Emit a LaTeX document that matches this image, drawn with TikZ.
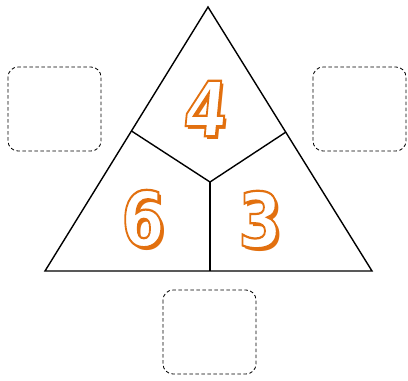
\documentclass[tikz,border=0pt]{standalone}
\usepackage{fontspec}
\newfontfamily\digitfont{DejaVu Sans}
\definecolor{numorange}{HTML}{E2700F}
\newcommand{\outlinedigit}[1]{\special{pdf:literal direct 2 Tr 2.2 w 1 1 1 rg 0.886 0.439 0.059 RG}#1\special{pdf:literal direct 0 Tr}}
\newcommand{\fancydigit}[1]{\makebox[0pt][l]{\hspace{3.6pt}\raisebox{-3pt}{\textcolor{numorange}{#1}}}\outlinedigit{#1}}
\tikzset{
  tri/.style={draw=black, line width=1.4pt, line join=miter},
  part/.style={draw=black, line width=1.4pt},
  blank/.style={draw=black, dash pattern=on 3.5pt off 2.5pt, rounded corners=10pt, line width=0.85pt},
  num/.style={font=\digitfont\bfseries\fontsize{76}{76}\selectfont, inner sep=0pt, xscale=0.82}
}
\begin{document}
\begin{tikzpicture}[x=1pt,y=-1pt]
\useasboundingbox (0,0) rectangle (408,381);
\coordinate (top) at (208,7);
\coordinate (bl) at (45,271);
\coordinate (br) at (372,271);
\coordinate (c) at (210,182);
\coordinate (ml) at (131.5,131);
\coordinate (mr) at (286,132);
\coordinate (mb) at (210,271);
\draw[tri] (top) -- (bl) -- (br) -- cycle;
\draw[part] (ml) -- (c) -- (mr);
\draw[part] (c) -- (mb);
% dashed boxes
\draw[blank] (8,67) rectangle (101,151);
\draw[blank] (313,67) rectangle (406,151);
\draw[blank] (163,290) rectangle (256,374);
% numbers
\node[num, xslant=0.12] (n4) at (206,110) {\fancydigit{4}};
\node[num] (n6) at (143,220) {\fancydigit{6}};
\node[num] (n3) at (260,221) {\fancydigit{3}};
\end{tikzpicture}
\end{document}
